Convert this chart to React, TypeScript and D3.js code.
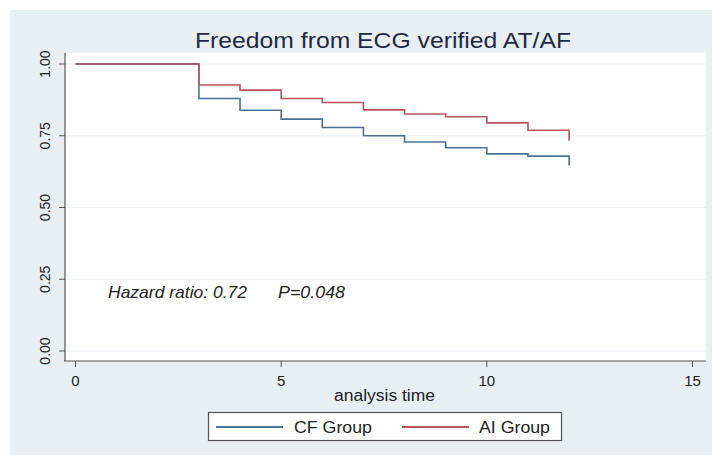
import React from "react";
import * as d3 from "d3";

const times = [0, 3, 4, 5, 6, 7, 8, 9, 10, 11, 12];
const cfGroup = [1.0, 0.88, 0.839, 0.808, 0.779, 0.75, 0.728, 0.708, 0.687, 0.679, 0.646];
const aiGroup = [1.0, 0.927, 0.909, 0.88, 0.866, 0.84, 0.826, 0.816, 0.795, 0.769, 0.733];
const xTicks = [0, 5, 10, 15];
const yTicks = [0, 0.25, 0.5, 0.75, 1.0];
const seriesNames = ["CF Group", "AI Group"];
const seriesColors = ["#4d7194", "#b5545e"];

const W = 712;
const H = 455;
const plot = { left: 65, right: 706, top: 53, bottom: 361 };

export default function App() {
  const x = d3.scaleLinear().domain([0, 15]).range([75.5, 692.5]);
  const y = d3.scaleLinear().domain([0, 1]).range([351, 64]);
  const line = d3
    .line<number>()
    .x((_, i) => x(times[i]))
    .y((d) => y(d))
    .curve(d3.curveStepAfter);
  const font = "'Liberation Sans', Arial, sans-serif";
  const txt = "#222";
  return (
    <svg
      width={W}
      height={H}
      style={{ position: "absolute", left: 0, top: 0, display: "block" }}
      fontFamily={font}
    >
      <rect x={0} y={0} width={W} height={H} fill="#fff" />
      <rect x={10} y={10} width={W - 10} height={H - 10} fill="#e8eff2" />
      <rect
        x={plot.left}
        y={plot.top}
        width={plot.right - plot.left}
        height={plot.bottom - plot.top}
        fill="#fff"
      />
      {yTicks.map((t) => (
        <line
          key={"g" + t}
          x1={plot.left}
          x2={plot.right}
          y1={y(t)}
          y2={y(t)}
          stroke="#e9f0f3"
          strokeWidth={1.2}
        />
      ))}
      <text x={195} y={48} fontSize={22} fill="#1e2a44" textLength={376} lengthAdjust="spacingAndGlyphs">
        Freedom from ECG verified AT/AF
      </text>
      {/* axes */}
      <line x1={plot.left} x2={plot.left} y1={plot.top} y2={plot.bottom} stroke="#555" strokeWidth={1.2} />
      <line x1={plot.left - 1} x2={plot.right} y1={plot.bottom} y2={plot.bottom} stroke="#555" strokeWidth={1.2} />
      {yTicks.map((t) => (
        <g key={"y" + t}>
          <line x1={plot.left - 6} x2={plot.left} y1={y(t)} y2={y(t)} stroke="#555" />
          <text
            transform={`translate(50,${y(t)}) rotate(-90)`}
            textAnchor="middle"
            fontSize={14}
            fill={txt}
          >
            {t.toFixed(2)}
          </text>
        </g>
      ))}
      {xTicks.map((t) => (
        <g key={"x" + t}>
          <line x1={x(t)} x2={x(t)} y1={plot.bottom} y2={plot.bottom + 6} stroke="#555" />
          <text x={x(t)} y={385.5} textAnchor="middle" fontSize={15} fill={txt}>
            {t}
          </text>
        </g>
      ))}
      <text x={334} y={401} fontSize={16} fill={txt} textLength={101} lengthAdjust="spacingAndGlyphs">
        analysis time
      </text>
      {/* curves */}
      <path d={line(cfGroup) || ""} fill="none" stroke={seriesColors[0]} strokeWidth={1.6} />
      <path d={line(aiGroup) || ""} fill="none" stroke={seriesColors[1]} strokeWidth={1.6} />
      <text x={108} y={298} fontSize={16.5} fontStyle="italic" fill={txt} textLength={139} lengthAdjust="spacingAndGlyphs">
        Hazard ratio: 0.72
      </text>
      <text x={278} y={298} fontSize={16.5} fontStyle="italic" fill={txt} textLength={67} lengthAdjust="spacingAndGlyphs">
        P=0.048
      </text>
      {/* legend */}
      <rect x={208.5} y={412.5} width={353} height={28} fill="#fff" stroke="#555" strokeWidth={1.2} />
      <line x1={216} x2={283} y1={427} y2={427} stroke={seriesColors[0]} strokeWidth={1.8} />
      <text x={294} y={433} fontSize={17} fill={txt} textLength={78} lengthAdjust="spacingAndGlyphs">
        {seriesNames[0]}
      </text>
      <line x1={402} x2={469} y1={427} y2={427} stroke={seriesColors[1]} strokeWidth={1.8} />
      <text x={479} y={433} fontSize={17} fill={txt} textLength={71} lengthAdjust="spacingAndGlyphs">
        {seriesNames[1]}
      </text>
    </svg>
  );
}
